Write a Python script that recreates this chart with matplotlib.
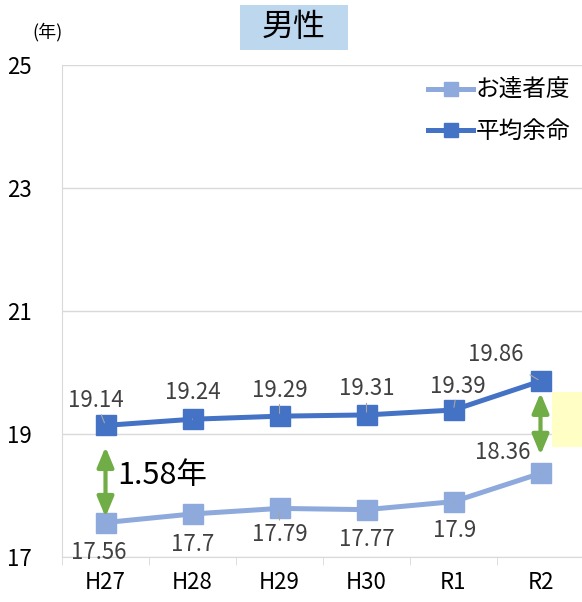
import matplotlib
matplotlib.use("Agg")
import matplotlib.pyplot as plt
from matplotlib.patches import Rectangle

plt.rcParams['font.family'] = ['Noto Sans CJK JP', 'DejaVu Sans']

# data
years = ["H27", "H28", "H29", "H30", "R1", "R2"]
heikin = [19.14, 19.24, 19.29, 19.31, 19.39, 19.86]   # 平均余命
otassha = [17.56, 17.7, 17.79, 17.77, 17.9, 18.36]    # お達者度
y_ticks = [17, 19, 21, 23, 25]

# label offsets in pixels (dx, dy)
heikin_off = [(-10, 25), (0, 27), (0, 26), (0, 26), (4, 24), (-45, 27)]
otassha_off = [(-7, -30), (0, -31), (0, -26), (0, -30), (1, -29), (-38, 21)]

c_heikin = "#4472C4"
c_otassha = "#8EA9DB"
green = "#70AD47"

fig = plt.figure(figsize=(5.82, 6.02), dpi=100)
ax = fig.add_axes([62 / 582, 45 / 602, 522 / 582, 492 / 602])

x = list(range(len(years)))
ax.plot(x, otassha, color=c_otassha, lw=3.6, marker="s", markersize=14,
        label="お達者度", zorder=3)
ax.plot(x, heikin, color=c_heikin, lw=3.6, marker="s", markersize=14,
        label="平均余命", zorder=3)

px = 0.72  # points per pixel
for xi, v, (dx, dy) in zip(x, heikin, heikin_off):
    ax.annotate(f"{v:g}", (xi, v), xytext=(dx * px, dy * px), textcoords="offset points",
                ha="center", va="center", fontsize=16, color="#404040",
                arrowprops=dict(arrowstyle="-", color="#A6A6A6", lw=0.8,
                                shrinkA=9, shrinkB=2), zorder=5)
for xi, v, (dx, dy) in zip(x, otassha, otassha_off):
    ax.annotate(f"{v:g}", (xi, v), xytext=(dx * px, dy * px), textcoords="offset points",
                ha="center", va="center", fontsize=16, color="#404040",
                arrowprops=dict(arrowstyle="-", color="#A6A6A6", lw=0.8,
                                shrinkA=9, shrinkB=2), zorder=5)

# green double arrows
for xa, y0, y1 in [(0, 18.79, 17.65), (5, 19.67, 18.66)]:
    ax.annotate("", xy=(xa, y1), xytext=(xa, y0),
                arrowprops=dict(arrowstyle="<|-|>,head_length=1.2,head_width=0.5",
                                color=green, lw=3, shrinkA=0, shrinkB=0), zorder=4)
ax.text(0.14, 18.33, "1.58年", fontsize=22, ha="left", va="center", color="black")

# yellow box
ax.add_patch(Rectangle((5.13, 18.79), 0.35, 0.89, facecolor="#FFFFC5",
                       edgecolor="none", zorder=1))

ax.set_xlim(-0.5, 5.5)
ax.set_ylim(17, 25)
ax.set_yticks(y_ticks)
ax.set_xticks(x)
ax.set_xticklabels(years)
ax.set_xticks([i - 0.5 for i in range(len(years) + 1)], minor=True)
ax.tick_params(axis="y", length=0, labelsize=16, pad=22)
ax.tick_params(axis="x", which="major", length=0, labelsize=16, pad=10)
ax.tick_params(axis="x", which="minor", length=6, color="#D9D9D9")
ax.grid(axis="y", color="#D9D9D9", lw=1)
ax.set_axisbelow(True)
for s in ["top", "right"]:
    ax.spines[s].set_visible(False)
for s in ["left", "bottom"]:
    ax.spines[s].set_color("#D9D9D9")

ax.legend(loc="upper right", frameon=False, fontsize=17, handlelength=1.9,
          markerscale=0.75, handletextpad=0.1, labelspacing=0.75,
          borderaxespad=0.2, bbox_to_anchor=(1.0, 1.0))

fig.text(48 / 582, 1 - 32 / 602, "(年)", fontsize=13, ha="center", va="center")
fig.patches.append(Rectangle((240 / 582, 1 - 50 / 602), 108 / 582, 45 / 602,
                             transform=fig.transFigure, facecolor="#BDD7EE",
                             edgecolor="none"))
fig.text(294 / 582, 1 - 27 / 602, "男性", fontsize=23, ha="center", va="center")

fig.savefig("out.png", dpi=100)
